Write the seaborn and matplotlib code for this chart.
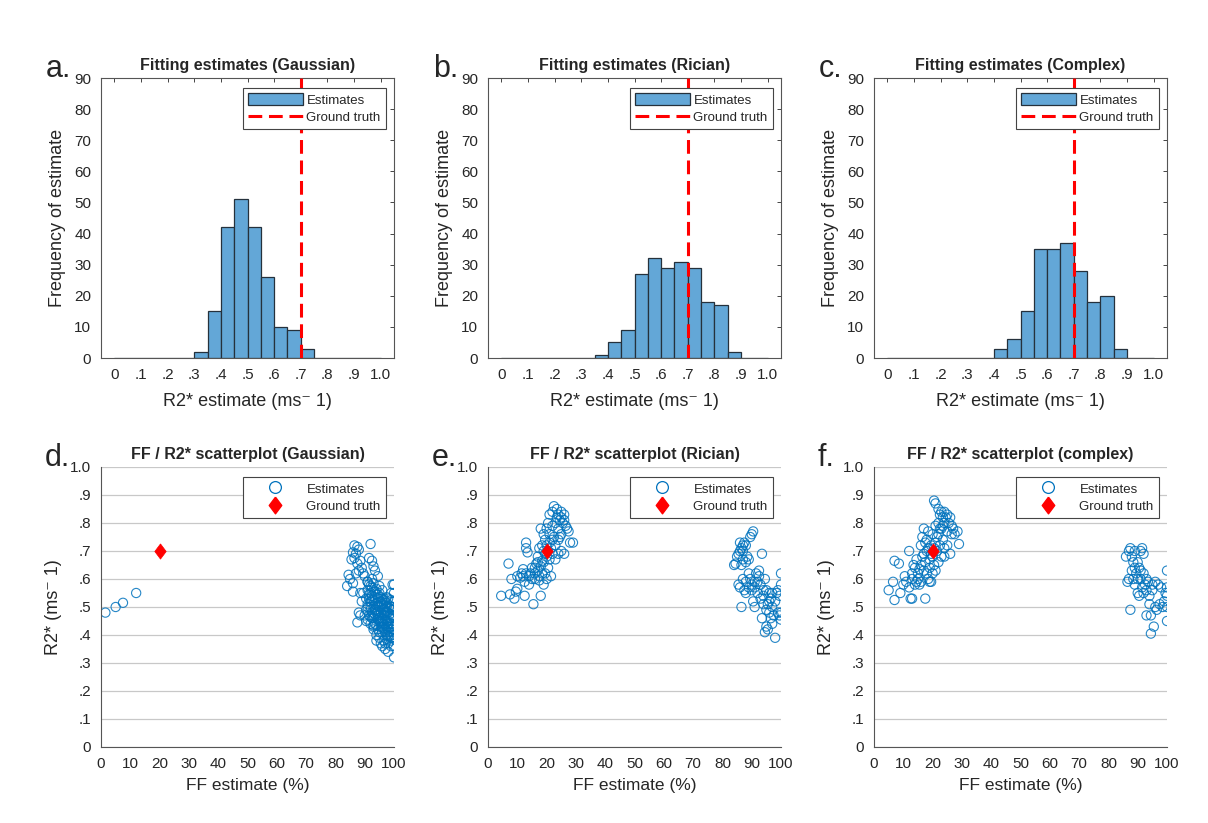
import numpy as np
import pandas as pd
import matplotlib
matplotlib.use("Agg")
import matplotlib.pyplot as plt
import seaborn as sns
from matplotlib.lines import Line2D
from matplotlib.patches import Patch

# ---------------- data ----------------
bin_edges = [round(0.05 * i, 2) for i in range(21)]
counts_gauss = [0, 0, 0, 0, 0, 0, 2, 15, 42, 51, 42, 26, 10, 9, 3, 0, 0, 0, 0, 0]
counts_rician = [0, 0, 0, 0, 0, 0, 0, 1, 5, 9, 27, 32, 29, 31, 29, 18, 17, 2, 0, 0]
counts_complex = [0, 0, 0, 0, 0, 0, 0, 0, 3, 6, 15, 35, 35, 37, 28, 18, 20, 3, 0, 0]

gt_r2 = 0.7
gt_ff = 20

hist_ticks = [0, 0.1, 0.2, 0.3, 0.4, 0.5, 0.6, 0.7, 0.8, 0.9, 1.0]
hist_ticklabels = ["0", ".1", ".2", ".3", ".4", ".5", ".6", ".7", ".8", ".9", "1.0"]
freq_ticks = [0, 10, 20, 30, 40, 50, 60, 70, 80, 90]
ff_ticks = [0, 10, 20, 30, 40, 50, 60, 70, 80, 90, 100]
r2_ticks = hist_ticks
r2_ticklabels = hist_ticklabels

# scatter d (Gaussian)
gauss_ff = [1.5, 5, 7.5, 12,
            86.5, 87.5, 88, 86, 87, 85.5, 86.5, 88.5, 87.5, 89, 84.5, 85, 86, 84, 88, 87, 89.5,
            92, 91.5, 92.5, 93, 93.5, 94.5, 92.5, 91, 90, 86, 88.5, 89, 88, 88.5, 87.5, 90, 91,
            91, 91.5, 92, 91, 92, 93, 92.5, 91.5, 93, 94, 94.5, 95, 96, 95.5, 93.5, 92, 91, 90.5,
            92.5, 94, 95, 96, 97, 98, 99, 99.5, 97.5, 96.5, 95.5, 94.5, 93, 92, 93.5, 95, 96, 97,
            98, 99, 100, 98.5, 97.5, 96.5, 95.5, 94.5, 93, 94, 95, 96, 97, 98, 99, 100, 99.5, 98.5,
            97.5, 96.5, 95.5, 94, 96, 97, 98, 99, 100, 99, 100, 98, 100, 100, 100, 99.5, 97, 96,
            94, 93, 95, 92, 90.5, 89.5, 91.5, 90.5, 92.5, 93.5, 95, 96.5, 98, 99, 97.5, 96, 94.5,
            93.5, 94.5, 96.5, 97.5, 98.5, 99.5, 100, 100, 100,
            91.5, 92.5, 93.5, 94.5, 95.5, 96.5, 97.5, 98.5, 99.5, 92, 93, 94, 95, 96, 97, 98, 99,
            92.5, 93.5, 94.5, 95.5, 96.5, 97.5, 98.5, 93, 94, 95, 96, 97, 98, 99, 100, 94.5, 95.5,
            96.5, 97.5, 98.5, 99.5, 91, 92, 93, 97, 98, 99]
gauss_r2 = [0.48, 0.50, 0.515, 0.55,
            0.72, 0.715, 0.705, 0.695, 0.69, 0.67, 0.675, 0.665, 0.655, 0.64, 0.615, 0.60, 0.585, 0.575, 0.63, 0.62, 0.62,
            0.725, 0.675, 0.665, 0.645, 0.63, 0.61, 0.60, 0.59, 0.61, 0.555, 0.55, 0.52, 0.48, 0.47, 0.445, 0.47, 0.455,
            0.59, 0.58, 0.575, 0.56, 0.55, 0.56, 0.54, 0.53, 0.525, 0.545, 0.53, 0.55, 0.56, 0.52, 0.51, 0.50, 0.51, 0.49,
            0.48, 0.49, 0.50, 0.51, 0.52, 0.53, 0.55, 0.58, 0.50, 0.49, 0.48, 0.47, 0.46, 0.44, 0.44, 0.45, 0.46, 0.47,
            0.48, 0.50, 0.52, 0.46, 0.45, 0.44, 0.43, 0.42, 0.42, 0.40, 0.39, 0.41, 0.42, 0.43, 0.44, 0.46, 0.42, 0.41,
            0.40, 0.38, 0.37, 0.38, 0.36, 0.35, 0.37, 0.39, 0.40, 0.36, 0.32, 0.34, 0.36, 0.43, 0.49, 0.47, 0.48, 0.53,
            0.565, 0.585, 0.575, 0.52, 0.53, 0.55, 0.47, 0.45, 0.46, 0.49, 0.47, 0.47, 0.45, 0.42, 0.43, 0.45, 0.455,
            0.475, 0.505, 0.515, 0.535, 0.505, 0.49, 0.50, 0.55, 0.58,
            0.545, 0.525, 0.535, 0.515, 0.505, 0.495, 0.485, 0.475, 0.465, 0.49, 0.50, 0.48, 0.46, 0.47, 0.455, 0.44, 0.43,
            0.57, 0.555, 0.545, 0.535, 0.525, 0.515, 0.495, 0.43, 0.435, 0.41, 0.43, 0.41, 0.395, 0.38, 0.385, 0.485, 0.445,
            0.425, 0.385, 0.395, 0.44, 0.50, 0.465, 0.435, 0.37, 0.42, 0.525]

# scatter e (Rician)
rician_ff = [4.5, 7.5, 8, 7, 9, 9.5, 10, 10, 11, 11.5, 12, 12.5, 12.5, 13, 13, 13.5, 14, 14.5, 15, 15,
             15.5, 16, 16, 16.5, 17, 17, 17.5, 17.5, 18, 18, 18, 18.5, 19, 19, 19, 19, 19.5, 19.5, 20, 20,
             20, 20, 20.5, 20.5, 21, 21, 21, 21.5, 21.5, 22, 22, 22, 22.5, 22.5, 23, 23, 23, 23.5, 23.5, 24,
             24, 24, 24, 24.5, 25, 25, 25, 25, 25.5, 26, 26, 26, 26.5, 27, 27.5, 28, 29, 18.5, 17, 16,
             14, 13, 12, 21, 22, 24.5, 20.5, 19.5, 18.5, 17.5,
             84, 84.5, 85, 85.5, 86, 86.5, 87, 87.5, 86, 87, 88, 88.5, 88, 87, 86.5, 85.5, 86, 87, 87.5, 88,
             89, 89.5, 89, 90, 90.5, 89.5, 93.5, 86.5, 88, 89, 90, 90, 90.5, 91, 91, 91.5, 92, 92, 92.5, 93,
             93, 93.5, 94, 94, 94.5, 95, 95, 95, 95.5, 94.5, 96, 96, 96.5, 96.5, 97, 97, 97, 97.5, 98, 98,
             98.5, 99, 99, 99.5, 100, 100, 100, 100, 99.5, 92.5, 91, 95.5, 96, 94]
rician_r2 = [0.54, 0.545, 0.60, 0.655, 0.53, 0.555, 0.565, 0.61, 0.605, 0.62, 0.635, 0.59, 0.54, 0.73, 0.71, 0.695, 0.58, 0.62, 0.60, 0.64,
             0.51, 0.62, 0.64, 0.655, 0.63, 0.68, 0.71, 0.595, 0.54, 0.645, 0.78, 0.665, 0.58, 0.66, 0.70, 0.76, 0.74, 0.62, 0.60, 0.68,
             0.72, 0.78, 0.80, 0.64, 0.83, 0.67, 0.76, 0.71, 0.61, 0.84, 0.79, 0.69, 0.86, 0.75, 0.80, 0.72, 0.67, 0.85, 0.82, 0.83,
             0.78, 0.74, 0.69, 0.81, 0.84, 0.82, 0.76, 0.70, 0.80, 0.83, 0.81, 0.69, 0.79, 0.78, 0.77, 0.73, 0.73, 0.72, 0.66, 0.60,
             0.61, 0.62, 0.61, 0.73, 0.74, 0.75, 0.70, 0.69, 0.62, 0.61,
             0.65, 0.655, 0.68, 0.69, 0.70, 0.71, 0.72, 0.73, 0.73, 0.70, 0.72, 0.68, 0.66, 0.67, 0.65, 0.58, 0.57, 0.60, 0.56, 0.59,
             0.62, 0.60, 0.67, 0.76, 0.77, 0.75, 0.69, 0.50, 0.55, 0.57, 0.58, 0.56, 0.52, 0.50, 0.57, 0.62, 0.59, 0.55, 0.61, 0.58,
             0.53, 0.46, 0.54, 0.51, 0.60, 0.56, 0.49, 0.43, 0.42, 0.41, 0.52, 0.48, 0.53, 0.46, 0.55, 0.50, 0.44, 0.47, 0.52, 0.39,
             0.55, 0.48, 0.56, 0.54, 0.62, 0.58, 0.48, 0.455, 0.47, 0.63, 0.59, 0.51, 0.55, 0.56]

# scatter f (complex)
complex_ff = [5, 6.5, 7, 7, 8.5, 9, 10, 10.5, 11, 12, 12, 12.5, 13, 13, 13, 13.5, 14, 14, 14.5, 14.5,
              15, 15, 15.5, 16, 16, 16, 16.5, 17, 17, 17, 17.5, 17.5, 18, 18, 18, 18.5, 18.5, 19, 19, 19,
              19.5, 19.5, 20, 20, 20, 20.5, 20.5, 21, 21, 21, 21, 21.5, 22, 22, 22, 22, 22.5, 22.5, 23, 23,
              23, 23.5, 23.5, 24, 24, 24, 24.5, 25, 25, 25, 25.5, 26, 26, 26.5, 26.5, 27, 27.5, 28.5, 29, 24,
              19.5, 18.5, 17.5, 16.5, 15.5, 20.5, 21.5, 22.5, 23.5,
              86, 86.5, 87, 87, 87.5, 87.5, 88, 88, 88.5, 88.5, 89, 89, 89.5, 90, 90, 90, 90.5, 91, 91, 91.5,
              91.5, 92, 92, 92, 92.5, 93, 93, 93.5, 94, 94, 94.5, 94.5, 95, 95, 95.5, 96, 96, 96.5, 97, 97.5,
              98, 98.5, 99, 99.5, 100, 100, 100, 100, 100, 90.5, 91, 93, 89]
complex_r2 = [0.56, 0.59, 0.525, 0.665, 0.655, 0.55, 0.58, 0.61, 0.59, 0.57, 0.70, 0.53, 0.53, 0.60, 0.62, 0.65, 0.58, 0.64, 0.59, 0.67,
              0.60, 0.62, 0.58, 0.59, 0.65, 0.72, 0.75, 0.63, 0.78, 0.69, 0.53, 0.66, 0.62, 0.70, 0.74, 0.60, 0.77, 0.59, 0.64, 0.67,
              0.72, 0.59, 0.76, 0.62, 0.68, 0.88, 0.65, 0.87, 0.79, 0.73, 0.63, 0.70, 0.85, 0.80, 0.76, 0.66, 0.83, 0.72, 0.84, 0.78,
              0.68, 0.74, 0.82, 0.84, 0.80, 0.71, 0.82, 0.83, 0.77, 0.72, 0.80, 0.82, 0.69, 0.79, 0.76, 0.78, 0.76, 0.77, 0.725, 0.68,
              0.69, 0.71, 0.73, 0.68, 0.635, 0.71, 0.75, 0.78, 0.79,
              0.68, 0.59, 0.70, 0.60, 0.49, 0.71, 0.68, 0.63, 0.66, 0.60, 0.70, 0.64, 0.62, 0.66, 0.55, 0.60, 0.54, 0.70, 0.63, 0.71,
              0.57, 0.69, 0.62, 0.55, 0.58, 0.56, 0.47, 0.59, 0.54, 0.51, 0.47, 0.405, 0.56, 0.58, 0.43, 0.59, 0.50, 0.49, 0.58, 0.51,
              0.57, 0.50, 0.52, 0.55, 0.63, 0.57, 0.54, 0.50, 0.45, 0.64, 0.60, 0.60, 0.58]

hist_panels = [
    ("a.", "Fitting estimates (Gaussian)", counts_gauss),
    ("b.", "Fitting estimates (Rician)", counts_rician),
    ("c.", "Fitting estimates (Complex)", counts_complex),
]
scatter_panels = [
    ("d.", "FF / R2* scatterplot (Gaussian)", gauss_ff, gauss_r2),
    ("e.", "FF / R2* scatterplot (Rician)", rician_ff, rician_r2),
    ("f.", "FF / R2* scatterplot (complex)", complex_ff, complex_r2),
]

# ---------------- style ----------------
sns.set_theme(style="white")
plt.rcParams["font.family"] = ["Liberation Sans", "DejaVu Sans"]
TXT = "#262626"
plt.rcParams.update({
    "text.color": TXT, "axes.labelcolor": TXT,
    "xtick.color": TXT, "ytick.color": TXT,
    "axes.edgecolor": TXT, "axes.linewidth": 0.8,
})

BLUE = "#0072BD"
BAR = "#63A7D7"

W, H = 1208, 823
fig = plt.figure(figsize=(W / 100, H / 100), dpi=100)

lefts = [101, 488, 874]
ax_w = 293
ax_h = 280
top_row_bottom = 358
bot_row_bottom = 747

def frac(x0, ybot, w, h):
    return [x0 / W, (H - ybot) / H, w / W, h / H]

diamond = [(0, 1), (0.75, 0), (0, -1), (-0.75, 0), (0, 1)]

centers = [(bin_edges[i] + bin_edges[i + 1]) / 2 for i in range(20)]

LEG_KW = dict(loc="upper right", borderaxespad=0, fontsize=9.5, frameon=True,
              fancybox=False, framealpha=1, handlelength=4.1, handleheight=1.0,
              handletextpad=0.3, borderpad=0.4, labelspacing=0.3)

for (letter, title, counts), x0 in zip(hist_panels, lefts):
    ax = fig.add_axes(frac(x0, top_row_bottom, ax_w, ax_h))
    df = pd.DataFrame({"r2": centers, "n": counts})
    sns.histplot(data=df, x="r2", weights="n", bins=bin_edges, ax=ax,
                 color=BAR, alpha=1, edgecolor="#25313c", linewidth=0.9)
    ax.axvline(gt_r2, color="#ff0000", lw=2.2, dashes=(4.5, 2.2), zorder=5)
    ax.set_xlim(-0.05, 1.05)
    ax.set_ylim(0, 90)
    ax.set_xticks(hist_ticks)
    ax.set_xticklabels(hist_ticklabels)
    ax.set_yticks(freq_ticks)
    ax.tick_params(direction="in", top=True, right=True, length=3, width=0.6,
                   labelsize=11, pad=7)
    ax.set_xlabel("R2* estimate (ms\u207b 1)", fontsize=13, labelpad=8)
    ax.set_ylabel("Frequency of estimate", fontsize=13, labelpad=6)
    ax.set_title(title, fontsize=11.5, fontweight="bold", pad=6)
    for s in ax.spines.values():
        s.set_visible(True)
        s.set_color("#555555")
    handles = [Patch(facecolor=BAR, edgecolor="#25313c", linewidth=0.9),
               Line2D([], [], color="#ff0000", lw=2.2, dashes=(4.5, 2.2))]
    leg = ax.legend(handles, ["Estimates", "Ground truth"],
                    bbox_to_anchor=(1 - 8 / ax_w, 1 - 10 / ax_h), **LEG_KW)
    leg.get_frame().set_edgecolor("#444444")
    leg.get_frame().set_linewidth(0.8)
    fig.text((x0 - 55) / W, (H - 77) / H, letter, fontsize=22, ha="left", va="baseline")

for (letter, title, ffv, r2v), x0 in zip(scatter_panels, lefts):
    ax = fig.add_axes(frac(x0, bot_row_bottom, ax_w, ax_h))
    ax.yaxis.grid(True, color="#c8c8c8", lw=0.9)
    ax.set_axisbelow(True)
    sdf = pd.DataFrame({"ff": ffv, "r2": r2v})
    sns.scatterplot(data=sdf, x="ff", y="r2", ax=ax, marker="o", s=44,
                    color=BLUE, facecolor="none", edgecolor=BLUE, linewidth=0.8, alpha=0.85)
    gdf = pd.DataFrame({"ff": [gt_ff], "r2": [gt_r2]})
    sns.scatterplot(data=gdf, x="ff", y="r2", ax=ax, marker=diamond, s=120,
                    color="#ff0000", edgecolor="#ff0000", linewidth=0.5, zorder=6)
    ax.set_xlim(0, 100)
    ax.set_ylim(0, 1.0)
    ax.set_xticks(ff_ticks)
    ax.set_yticks(r2_ticks)
    ax.set_yticklabels(r2_ticklabels)
    ax.tick_params(direction="in", length=0, labelsize=11, pad=7)
    ax.set_xlabel("FF estimate (%)", fontsize=12.5, labelpad=5)
    ax.set_ylabel("R2* (ms\u207b 1)", fontsize=13, labelpad=6)
    ax.set_title(title, fontsize=11.5, fontweight="bold", pad=6)
    for side in ["top", "right"]:
        ax.spines[side].set_visible(False)
    for side in ["left", "bottom"]:
        ax.spines[side].set_color("#555555")
    handles = [Line2D([], [], ls="none", marker="o", markersize=8.5, markerfacecolor="none",
                      markeredgecolor=BLUE, markeredgewidth=0.9),
               Line2D([], [], ls="none", marker=diamond, markersize=12, markerfacecolor="#ff0000",
                      markeredgecolor="#ff0000")]
    leg = ax.legend(handles, ["Estimates", "Ground truth"],
                    bbox_to_anchor=(1 - 8 / ax_w, 1 - 10 / ax_h), **LEG_KW)
    leg.get_frame().set_edgecolor("#444444")
    leg.get_frame().set_linewidth(0.8)
    fig.text((x0 - 56) / W, (H - 466) / H, letter, fontsize=22, ha="left", va="baseline")

fig.savefig("out.png", dpi=100, facecolor="white")
